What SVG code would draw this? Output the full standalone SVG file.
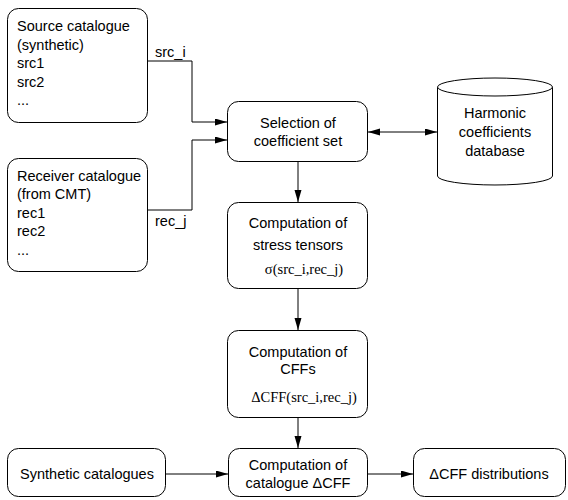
<svg xmlns="http://www.w3.org/2000/svg" width="568" height="500" viewBox="0 0 568 500">
<style>
.box{fill:#fff;stroke:#000;stroke-width:1}
.t{font-family:"Liberation Sans",Arial,sans-serif;font-size:14.5px;fill:#000}
.c{text-anchor:middle}
.s{font-family:"Liberation Serif","Times New Roman",serif;font-size:14.5px;fill:#000;text-anchor:middle}
.ln{fill:none;stroke:#000;stroke-width:1}
</style>
<defs>
<marker id="ah" markerUnits="userSpaceOnUse" markerWidth="12" markerHeight="8" refX="12" refY="3.5" orient="auto-start-reverse">
<path d="M0,0 L12,3.5 L0,7 z" fill="#000"/>
</marker>
</defs>
<rect width="568" height="500" fill="#fff"/>
<g id="connectors">
<path class="ln" d="M148,61 H192 V122 H227" marker-end="url(#ah)"/>
<path class="ln" d="M148,210 H192 V140 H227" marker-end="url(#ah)"/>
<path class="ln" d="M368,132 H437" marker-start="url(#ah)" marker-end="url(#ah)"/>
<path class="ln" d="M298,162 V202" marker-end="url(#ah)"/>
<path class="ln" d="M298,289 V330" marker-end="url(#ah)"/>
<path class="ln" d="M298,418 V448" marker-end="url(#ah)"/>
<path class="ln" d="M166,474 H228" marker-end="url(#ah)"/>
<path class="ln" d="M368,474 H413" marker-end="url(#ah)"/>
<text class="t" x="155" y="57">src_i</text>
<text class="t" x="155" y="226">rec_j</text>
</g>
<g id="source">
<rect class="box" x="7.5" y="8.5" width="140" height="114" rx="11"/>
<text class="t" x="17" y="31">Source catalogue</text>
<text class="t" x="17" y="50">(synthetic)</text>
<text class="t" x="17" y="68">src1</text>
<text class="t" x="17" y="87">src2</text>
<text class="t" x="17" y="105">...</text>
</g>
<g id="receiver">
<rect class="box" x="7.5" y="158.5" width="140" height="113" rx="11"/>
<text class="t" x="17" y="181">Receiver catalogue</text>
<text class="t" x="17" y="199">(from CMT)</text>
<text class="t" x="17" y="218">rec1</text>
<text class="t" x="17" y="236">rec2</text>
<text class="t" x="17" y="255">...</text>
</g>
<g id="selection">
<rect class="box" x="227.5" y="101.5" width="140" height="60" rx="11"/>
<text class="t c" x="298" y="128">Selection of</text>
<text class="t c" x="298" y="146">coefficient set</text>
</g>
<g id="database">
<path class="box" d="M437.5,87 V176 A57.5,9 0 0 0 552.5,176 V87"/>
<ellipse class="box" cx="495" cy="87" rx="57.5" ry="9"/>
<text class="t c" x="495" y="118">Harmonic</text>
<text class="t c" x="495" y="137">coefficients</text>
<text class="t c" x="495" y="156">database</text>
</g>
<g id="stress">
<rect class="box" x="227.5" y="202.5" width="140" height="86" rx="11"/>
<text class="t c" x="298" y="228">Computation of</text>
<text class="t c" x="298" y="250">stress tensors</text>
<text class="s" x="304" y="274">σ(src_i,rec_j)</text>
</g>
<g id="cffs">
<rect class="box" x="227.5" y="330.5" width="140" height="87" rx="11"/>
<text class="t c" x="298" y="357">Computation of</text>
<text class="t c" x="298" y="374">CFFs</text>
<text class="s" x="304" y="402">ΔCFF(src_i,rec_j)</text>
</g>
<g id="synthetic">
<rect class="box" x="7.5" y="448.5" width="158" height="48" rx="11"/>
<text class="t c" x="87" y="479">Synthetic catalogues</text>
</g>
<g id="catalogue">
<rect class="box" x="228.5" y="448.5" width="139" height="48" rx="11"/>
<text class="t c" x="298" y="470">Computation of</text>
<text class="t c" x="298" y="488">catalogue ΔCFF</text>
</g>
<g id="distributions">
<rect class="box" x="413.5" y="448.5" width="152" height="48" rx="11"/>
<text class="t c" x="489" y="479">ΔCFF distributions</text>
</g>
</svg>
